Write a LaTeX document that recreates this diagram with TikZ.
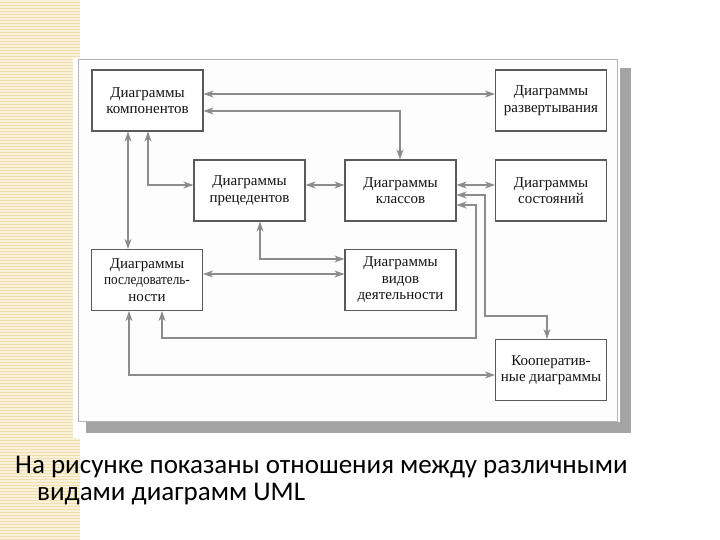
\documentclass[tikz,border=0pt]{standalone}
\usepackage{fontspec}
\setmainfont{Liberation Serif}
\newfontfamily\capfont{Carlito}
\usetikzlibrary{arrows.meta}
\definecolor{linegray}{HTML}{8C8C8C}
\definecolor{boxgray}{HTML}{5A5A5A}
\definecolor{textdark}{HTML}{141414}
\definecolor{beigeA}{HTML}{F1DFB0}
\definecolor{beigeB}{HTML}{FAF1DA}
\definecolor{shadowgray}{HTML}{A4A4A4}
\definecolor{framegray}{HTML}{B4B4B4}
\begin{document}
\begin{tikzpicture}[x=1pt,y=-1pt,
  box/.style={draw=boxgray, line width=1.1pt, minimum width=111pt, minimum height=61pt,
    inner sep=0pt, align=center, font=\fontsize{15}{16.5}\selectfont, text=textdark, fill=white},
  tip/.tip={Stealth[length=10pt,width=7pt,inset=3pt]},
  conn/.style={draw=linegray, line width=1.1pt, tip-tip},
  captext/.style={anchor=base west, inner sep=0pt, font=\capfont\fontsize{27}{30}\selectfont, text=black}]
\useasboundingbox (0,0) rectangle (720,540);
% striped band
\fill[beigeA] (0,0) rectangle (80,540);
\foreach \yy in {1,4,...,540} { \draw[beigeB, line width=1.3pt] (0,\yy) -- (80,\yy); }
% picture background, shadow and frame
\fill[white] (73,57) rectangle (636,438);
\fill[shadowgray] (86,422) rectangle (631,433);
\fill[shadowgray] (620,68) rectangle (631,433);
\draw[framegray, line width=0.8pt, fill={rgb,255:red,253;green,253;blue,253}] (78,59) rectangle (617,421);
% boxes
\node[box] (comp)  at (147.5,100.5) {Диаграммы\\компонентов};
\node[box] (razv)  at (551,100.5)   {Диаграммы\\развертывания};
\node[box] (prec)  at (249.5,190.5) {Диаграммы\\прецедентов};
\node[box] (klass) at (400.5,190.5) {Диаграммы\\классов};
\node[box] (sost)  at (551,190.5)   {Диаграммы\\состояний};
\node[box] (posl)  at (147,280)     {Диаграммы\\\scalebox{0.88}[1]{последователь-}\\ности};
\node[box] (vid)   at (400.5,280)   {Диаграммы\\видов\\деятельности};
\node[box] (koop)  at (551,370)     {Кооператив-\\ные диаграммы};
% connectors
\draw[conn] (comp.east |- 0,94) -- (razv.west |- 0,94);
\draw[conn] (comp.east |- 0,111) -| (400,0 |- klass.north);
\draw[conn] (128,0 |- comp.south) -- (128,0 |- posl.north);
\draw[conn] (148,0 |- comp.south) |- (prec.west |- 0,185);
\draw[conn] (prec.east |- 0,185) -- (klass.west |- 0,185);
\draw[conn] (klass.east |- 0,185) -- (sost.west |- 0,185);
\draw[conn] (klass.east |- 0,195) -| (485,316) -| (547,0 |- koop.north);
\draw[conn] (klass.east |- 0,205) -| (476,338) -| (162,0 |- posl.south);
\draw[conn] (129,0 |- posl.south) |- (koop.west |- 0,375);
\draw[conn] (260,0 |- prec.south) |- (vid.west |- 0,259);
\draw[conn] (posl.east |- 0,274) -- (vid.west |- 0,274);
% caption
\node[captext] (cap1) at (15,473) {На рисунке показаны отношения между различными};
\node[captext] (cap2) at (37,500) {видами диаграмм UML};
\end{tikzpicture}
\end{document}
